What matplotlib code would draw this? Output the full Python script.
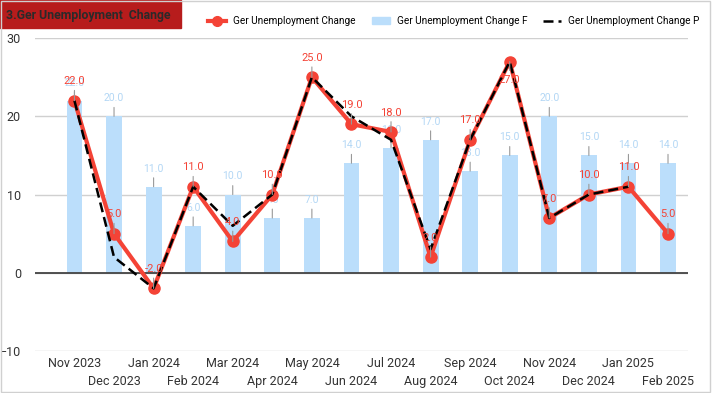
import numpy as np
import matplotlib
matplotlib.use("Agg")
import matplotlib.pyplot as plt
from matplotlib.lines import Line2D
from matplotlib.patches import Patch, Rectangle

plt.rcParams['font.family'] = ['Roboto', 'DejaVu Sans']

months = ["Nov 2023", "Dec 2023", "Jan 2024", "Feb 2024", "Mar 2024", "Apr 2024",
          "May 2024", "Jun 2024", "Jul 2024", "Aug 2024", "Sep 2024", "Oct 2024",
          "Nov 2024", "Dec 2024", "Jan 2025", "Feb 2025"]
actual = [22, 5, -2, 11, 4, 10, 25, 19, 18, 2, 17, 27, 7, 10, 11, 5]
forecast = [22, 20, 11, 6, 10, 7, 7, 14, 16, 17, 13, 15, 20, 15, 14, 14]
previous = [22, 2, -2, 11, 6, 10, 25, 20, 17, 3, 17, 27, 7, 10, 11, np.nan]

RED = '#F44336'
BLUE = '#BBDEFB'
BLUE_TXT = '#B3D7F5'

fig = plt.figure(figsize=(7.12, 3.93), dpi=100)
ax = fig.add_axes([0.049, 0.107, 0.917, 0.796])

x = np.arange(len(months))

ax.bar(x, forecast, width=0.4, color=BLUE, zorder=2)
ax.plot(x, actual, color=RED, lw=3, marker='o', ms=8, zorder=4)
ax.plot(x, previous, color='black', lw=1.8, ls=(0, (4, 2)), zorder=5)

# data labels with leader lines
for i, v in enumerate(forecast):
    ax.annotate(f"{v:.1f}", (i, v), xytext=(0, 13), textcoords='offset points',
                ha='center', va='center', fontsize=7.5, color=BLUE_TXT, zorder=3,
                arrowprops=dict(arrowstyle='-', color='#999999', lw=0.8,
                                shrinkA=1, shrinkB=0))
for i, v in enumerate(actual):
    off = -13 if v > 26 else 14
    ax.annotate(f"{v:.1f}", (i, v), xytext=(0, off), textcoords='offset points',
                ha='center', va='center', fontsize=8, color=RED, zorder=6,
                arrowprops=dict(arrowstyle='-', color='#999999', lw=0.8,
                                shrinkA=1, shrinkB=0))

ax.set_ylim(-10, 30)
ax.set_yticks([-10, 0, 10, 20, 30])
ax.set_xlim(-1.0, 15.5)
# staggered month labels: even months on major ticks, odd ones on a lower row
ax.set_xticks(x[::2])
ax.set_xticklabels(months[::2])
ax.set_xticks(x[1::2], minor=True)
ax.set_xticklabels(months[1::2], minor=True)
ax.tick_params(axis='both', which='both', length=0, labelsize=9, colors='#333333')
ax.tick_params(axis='x', which='major', pad=4)
ax.tick_params(axis='x', which='minor', pad=17)
ax.tick_params(axis='y', pad=10)
ax.grid(axis='y', color='#D0D0D0', lw=1, zorder=0)
ax.axhline(0, color='#444444', lw=1.3, zorder=3)
for s in ax.spines.values():
    s.set_visible(False)

# title block
fig.patches.append(Rectangle((0, 1 - 28 / 393), 181 / 712, 28 / 393,
                             transform=fig.transFigure, color='#B71C1C', zorder=0))
fig.text(6 / 712, 1 - 16 / 393, "3.Ger Unemployment  Change", fontsize=8.8,
         fontweight='bold', color='#2a2a2a', va='center', ha='left')

# frame
fig.patches.append(Rectangle((0.001, 0.003), 0.996, 0.995, transform=fig.transFigure,
                             fill=False, edgecolor='#D0D0D0', lw=1))

handles = [Line2D([], [], color=RED, lw=3, marker='o', ms=7),
           Patch(color=BLUE),
           Line2D([], [], color='black', lw=1.8, ls=(0, (4, 2)))]
labels = ["Ger Unemployment Change", "Ger Unemployment Change F",
          "Ger Unemployment Change P"]
fig.legend(handles, labels, loc='center', bbox_to_anchor=(454 / 712, 1 - 21 / 393),
           ncol=3, frameon=False, fontsize=7.2, handlelength=1.8,
           columnspacing=1.6, handletextpad=0.7, borderpad=0)

fig.savefig("out.png", dpi=100)
